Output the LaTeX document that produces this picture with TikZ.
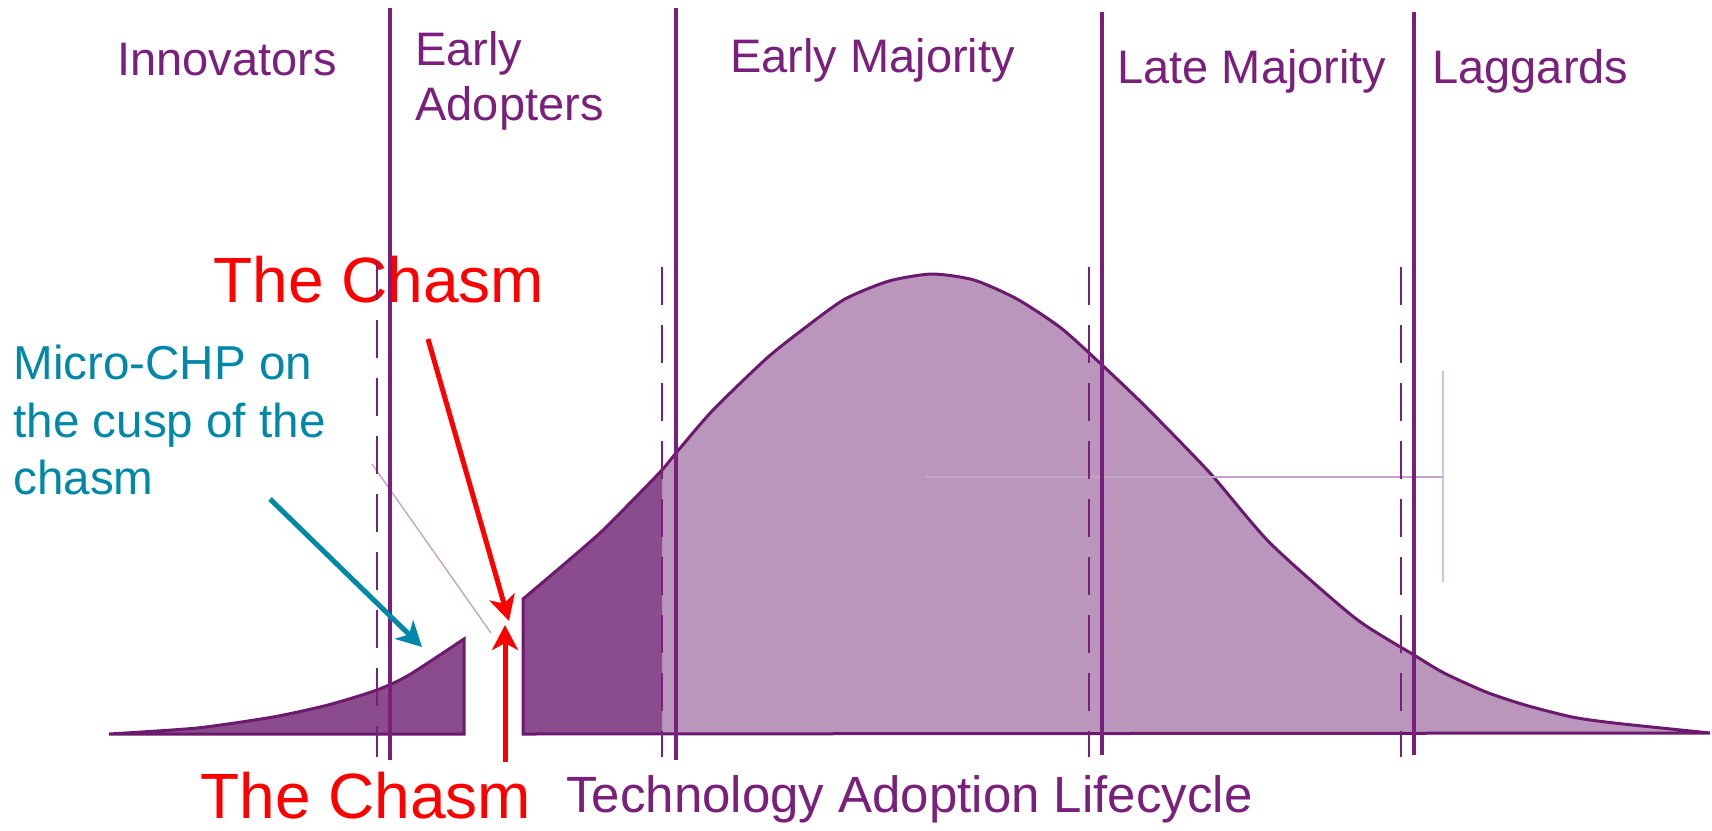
\documentclass[tikz,border=0pt]{standalone}
\usepackage{fontspec}
\setmainfont{Liberation Sans}
\usetikzlibrary{arrows.meta}
\definecolor{tapurple}{HTML}{7A1F7C}
\definecolor{taline}{HTML}{6C1A6E}
\definecolor{tadark}{HTML}{8B4C8D}
\definecolor{talight}{HTML}{BA95BC}
\definecolor{tafaint}{HTML}{C4A4C6}
\definecolor{tateal}{HTML}{0088A8}
\definecolor{tared}{HTML}{FF0000}
\newcommand\bellright{(523,734) -- plot[smooth,tension=0.4] coordinates {(523,599) (562,566) (600,533) (632,501) (662,470) (676,453) (713,410) (767,358) (806,327) (845,299) (889,281) (932,274) (974,280) (1017,299) (1061,328) (1102,365) (1146,407) (1210,473) (1270,543) (1355,618) (1414,655) (1444,673) (1486,692) (1525,705) (1572,717) (1614,723) (1710,733)} -- cycle}

\begin{document}
\begin{tikzpicture}[x=0.5pt,y=-0.5pt,
    sep/.style={draw=tapurple,line width=2pt},
    subsep/.style={draw=tapurple,line width=1.4pt,dash pattern=on 19pt off 10pt},
    faint/.style={draw=tafaint,line width=0.7pt},
    phase/.style={text=tapurple,inner sep=0pt,font=\fontsize{23.5pt}{27.5pt}\selectfont},
    chasm/.style={text=tared,inner sep=0pt,font=\fontsize{32pt}{38pt}\selectfont},
    pointer/.style={line width=2.5pt,-{Stealth[length=12.5pt,width=13pt,inset=3.5pt]}}]
\useasboundingbox (0,0) rectangle (1712,830);

\filldraw[fill=tadark,draw=taline,line width=1.5pt] (464,734) -- (109,734) -- plot[smooth,tension=0.4] coordinates {(109,734) (197,728) (273,717) (328,705) (377,690) (409,675) (464,639)} -- cycle;
\fill[talight] \bellright;
\begin{scope}
\clip (523,0) rectangle (662,760);
\fill[tadark] \bellright;
\end{scope}
\draw[taline,line width=1.5pt] \bellright;

\draw[faint] (372,464) -- (491,633);
\draw[faint] (926,477) -- (1443,477);
\draw[faint,draw opacity=0.7] (1443,371) -- (1443,582);

\node[phase,anchor=base west] (innovators) at (117,75) {Innovators};
\node[phase,anchor=north west,align=left] (earlyad) at (415,31) {Early\\Adopters};
\node[phase,anchor=base west] (earlymaj) at (730,72) {Early Majority};
\node[phase,anchor=base west] (latemaj) at (1117,83) {Late Majority};
\node[phase,anchor=base west] (laggards) at (1432,83) {Laggards};
\node[chasm,anchor=base west] (chasmtop) at (213,302) {The Chasm};
\node[chasm,anchor=base west] (chasmbot) at (200,818) {The Chasm};
\node[text=tateal,inner sep=0pt,anchor=north west,align=left,font=\fontsize{23.8pt}{28.75pt}\selectfont] (microchp) at (13,345) {Micro-CHP on\\the cusp of the\\chasm};
\node[text=tapurple,inner sep=0pt,anchor=base west,font=\fontsize{25.5pt}{30pt}\selectfont] (lifecycle) at (566,812) {Technology Adoption Lifecycle};

\foreach \x/\t/\b in {390/8/760, 676/8/760, 1102/12/755, 1414/12/755}
  \draw[sep] (\x,\t) -- (\x,\b);
\foreach \x/\t in {377/262, 662/267, 1089/267, 1401/267}
  \draw[subsep] (\x,\t) -- (\x,757);

\coordinate (tealtail) at (270,499);
\coordinate (tealtip) at (422,647);
\coordinate (downtail) at (428,339);
\coordinate (downtip) at (509,621);
\coordinate (uptail) at (505,762);
\coordinate (uptip) at (505,625);
\draw[pointer,tateal] (tealtail) -- (tealtip);
\draw[pointer,tared] (downtail) -- (downtip);
\draw[pointer,tared] (uptail) -- (uptip);
\end{tikzpicture}
\end{document}
